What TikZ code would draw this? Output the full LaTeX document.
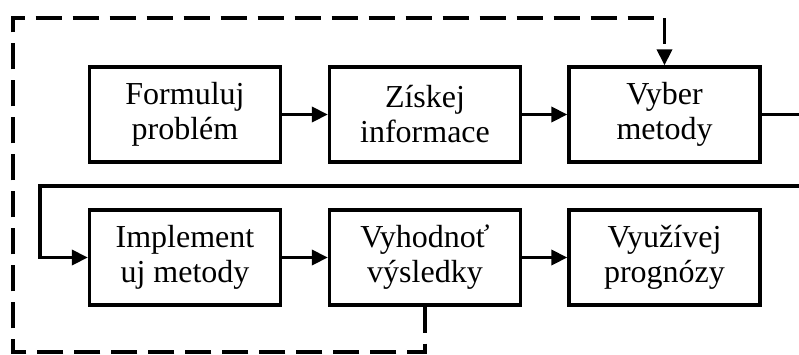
\documentclass[tikz,border=0pt]{standalone}
\usepackage{fontspec}
\setmainfont{Liberation Serif}
\usetikzlibrary{arrows.meta}
\begin{document}
\begin{tikzpicture}[x=1pt,y=-1pt,
  stepbox/.style={draw, line width=3.3pt, minimum width=191pt, minimum height=95pt,
    align=center, inner sep=0pt, font=\fontsize{32}{35}\selectfont},
  flow/.style={line width=3.5pt, -{Triangle[length=16pt,width=15pt]}},
  feedback/.style={line width=3.5pt, dash pattern=on 26pt off 11pt,
    -{Triangle[length=16pt,width=15pt]}}]
\useasboundingbox (0,0) rectangle (799,354);
\clip (0,0) rectangle (799,354);
% top row
\node[stepbox] (form) at (185,114.5) {Formuluj\\problém};
\node[stepbox] (info) at (425,114.5) {Získej\\informace};
\node[stepbox] (vyber) at (664.5,114.5) {Vyber\\metody};
% bottom row
\node[stepbox] (impl) at (185,257.5) {Implement\\uj metody};
\node[stepbox] (vyh) at (425,257.5) {Vyhodnoť\\výsledky};
\node[stepbox] (vyuz) at (664.5,257.5) {Využívej\\prognózy};
% main flow
\draw[flow] (form) -- (info);
\draw[flow] (info) -- (vyber);
\coordinate (r1) at (805,114.5);
\coordinate (r2) at (805,186);
\coordinate (l1) at (40,186);
\coordinate (l2) at (40,257.5);
\draw[flow] (vyber.east) -- (r1) -- (r2) -- (l1) -- (l2) -- (impl.west);
\draw[flow] (impl) -- (vyh);
\draw[flow] (vyh) -- (vyuz);
% feedback loop
\coordinate (d1) at (425,352);
\coordinate (d2) at (13,352);
\coordinate (d3) at (13,18);
\coordinate (d4) at (664.5,18);
\draw[feedback] (vyh.south) -- (d1) -- (d2) -- (d3) -- (d4) -- (vyber.north);
\end{tikzpicture}
\end{document}
